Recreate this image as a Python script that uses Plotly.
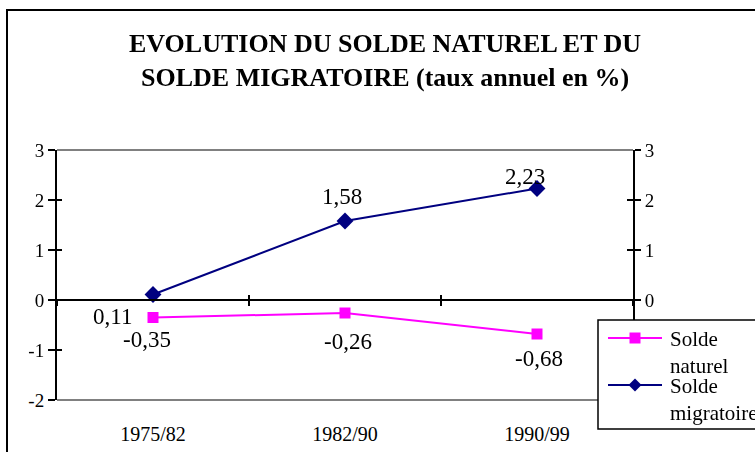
import plotly.graph_objects as go

# Data
periodes = ['1975/82', '1982/90', '1990/99']
solde_naturel = [-0.35, -0.26, -0.68]
solde_migratoire = [0.11, 1.58, 2.23]
y_ticks = [-2, -1, 0, 1, 2, 3]
y_ticktext = ['-2', '-1', '0', '1', '2', '3']
y_ticks_right = [0, 1, 2, 3]
legend_labels = ['Solde<br>naturel', 'Solde<br>migratoire']

# label offsets (px) for each data label
shift_naturel = [(-6, -22), (3, -28), (2, -24)]
shift_migratoire = [(-41, -22), (-3, 25), (-12, 12)]


def fr(v):
    return f"{v:.2f}".replace('.', ',')


def px(x):
    return (x - 57) / 576


def py(y):
    return (400 - y) / 250


FONT = 'Liberation Serif, Times New Roman, DejaVu Serif, serif'
NAT = '#FF00FF'
MIG = '#000080'

fig = go.Figure()

fig.add_trace(go.Scatter(
    x=periodes, y=solde_naturel, name=legend_labels[0],
    mode='lines+markers',
    line=dict(color=NAT, width=2),
    marker=dict(symbol='square', size=11, color=NAT),
    hoverinfo='skip',
))
fig.add_trace(go.Scatter(
    x=periodes, y=solde_migratoire, name=legend_labels[1],
    mode='lines+markers',
    line=dict(color=MIG, width=2),
    marker=dict(symbol='diamond', size=13, color=MIG),
    hoverinfo='skip',
))
# invisible traces so the helper axes get drawn
idx = list(range(len(periodes)))
fig.add_trace(go.Scatter(x=idx, y=solde_migratoire, xaxis='x2', yaxis='y2', mode='markers',
                         opacity=0, hoverinfo='skip'))
fig.add_trace(go.Scatter(x=idx, y=solde_migratoire, xaxis='x3', yaxis='y3', mode='markers',
                         opacity=0, hoverinfo='skip'))
fig.add_trace(go.Scatter(x=idx, y=solde_migratoire, xaxis='x3', yaxis='y4', mode='markers',
                         opacity=0, hoverinfo='skip'))

annotations = [
    dict(xref='paper', yref='paper', x=px(385), y=py(61),
         xanchor='center', yanchor='middle', showarrow=False,
         text='<b>EVOLUTION DU SOLDE NATUREL ET DU<br>SOLDE MIGRATOIRE (taux annuel en %)</b>',
         font=dict(family=FONT, size=26, color='black')),
]
for serie, shifts in ((solde_naturel, shift_naturel), (solde_migratoire, shift_migratoire)):
    for p, v, (dx, dy) in zip(periodes, serie, shifts):
        annotations.append(dict(
            x=p, y=v, xref='x', yref='y', text=fr(v), showarrow=False,
            xshift=dx, yshift=dy, font=dict(family=FONT, size=23, color='black'),
        ))

# legend box (drawn by hand, like the original chart's legend)
shapes = [
    # plot area top / bottom border
    dict(type='line', xref='paper', yref='paper', x0=0, x1=1, y0=1, y1=1,
         line=dict(color='#808080', width=2), layer='below'),
    dict(type='line', xref='paper', yref='paper', x0=0, x1=1, y0=0, y1=0,
         line=dict(color='#808080', width=2), layer='below'),
    # chart border
    dict(type='rect', xref='paper', yref='paper', x0=px(7), x1=1.3, y0=-0.3, y1=py(10),
         line=dict(color='black', width=2), fillcolor='rgba(0,0,0,0)'),
    dict(type='rect', xref='paper', yref='paper', x0=px(598), x1=1.3, y0=py(429), y1=py(320),
         line=dict(color='black', width=1.5), fillcolor='white', layer='above'),
]
for (label, color, sym_y, text_y, diamond) in (
        (legend_labels[0], NAT, 338, 352, False),
        (legend_labels[1], MIG, 385, 399, True)):
    shapes.append(dict(type='line', xref='paper', yref='paper', x0=px(608), x1=px(662),
                       y0=py(sym_y), y1=py(sym_y), line=dict(color=color, width=2),
                       layer='above'))
    if diamond:
        shapes.append(dict(type='path', xref='paper', yref='paper', layer='above',
                           path=(f"M {px(635)} {py(sym_y - 6.5)} L {px(641.5)} {py(sym_y)} "
                                 f"L {px(635)} {py(sym_y + 6.5)} L {px(628.5)} {py(sym_y)} Z"),
                           fillcolor=color, line=dict(color=color, width=0)))
    else:
        shapes.append(dict(type='rect', xref='paper', yref='paper', layer='above',
                           x0=px(629.5), x1=px(640.5), y0=py(sym_y + 5.5), y1=py(sym_y - 5.5),
                           fillcolor=color, line=dict(color=color, width=0)))
    annotations.append(dict(xref='paper', yref='paper', x=px(668), y=py(text_y),
                            xanchor='left', yanchor='middle', align='left', showarrow=False,
                            text=label, font=dict(family=FONT, size=21, color='black')))

axis_common = dict(range=[-2, 3], showgrid=False, zeroline=False)

fig.update_layout(
    width=755, height=452,
    margin=dict(l=57, r=122, t=150, b=52, autoexpand=False),
    paper_bgcolor='white', plot_bgcolor='white',
    font=dict(family=FONT, size=18, color='black'),
    showlegend=False,
    xaxis=dict(
        type='category', categoryarray=periodes, range=[-0.5, 2.5],
        anchor='free', position=0.4,
        showline=True, linecolor='black', linewidth=2,
        ticks='outside', tickson='boundaries', ticklen=5, tickwidth=2, tickcolor='black',
        showticklabels=False, showgrid=False, zeroline=False,
    ),
    xaxis2=dict(
        overlaying='x', anchor='y', side='bottom', range=[-0.5, 2.5],
        tickvals=idx, ticktext=periodes, ticks='', showline=False,
        showgrid=False, zeroline=False, ticklabelstandoff=20,
        tickfont=dict(family=FONT, size=20),
    ),
    xaxis3=dict(
        overlaying='x', anchor='free', position=0.4, range=[-0.5, 2.5],
        tickvals=[-0.5, 0.5, 1.5, 2.5], ticks='inside', ticklen=5, tickwidth=2,
        tickcolor='black', showticklabels=False, showline=False,
        showgrid=False, zeroline=False,
    ),
    yaxis=dict(
        **axis_common, tickvals=y_ticks, ticktext=y_ticktext, anchor='x2',
        showline=True, linecolor='black', linewidth=2,
        ticks='outside', ticklen=7, tickwidth=2, tickcolor='black',
        tickfont=dict(family=FONT, size=19),
    ),
    yaxis3=dict(
        **axis_common, tickvals=y_ticks, overlaying='y', anchor='x2', side='left',
        ticks='inside', ticklen=5, tickwidth=2, tickcolor='black',
        showticklabels=False, showline=False,
    ),
    yaxis2=dict(
        **axis_common, tickvals=y_ticks_right, ticktext=[str(t) for t in y_ticks_right],
        overlaying='y', anchor='x2', side='right',
        showline=True, linecolor='black', linewidth=2,
        ticks='outside', ticklen=6, tickwidth=2, tickcolor='black',
        tickfont=dict(family=FONT, size=19),
    ),
    yaxis4=dict(
        **axis_common, tickvals=y_ticks_right, overlaying='y', anchor='x2', side='right',
        ticks='inside', ticklen=6, tickwidth=2, tickcolor='black',
        showticklabels=False, showline=False,
    ),
    shapes=shapes,
    annotations=annotations,
)

fig.write_html("out.html", config={'displayModeBar': False},
               post_script="document.body.style.margin='0';document.body.style.overflow='hidden';")
